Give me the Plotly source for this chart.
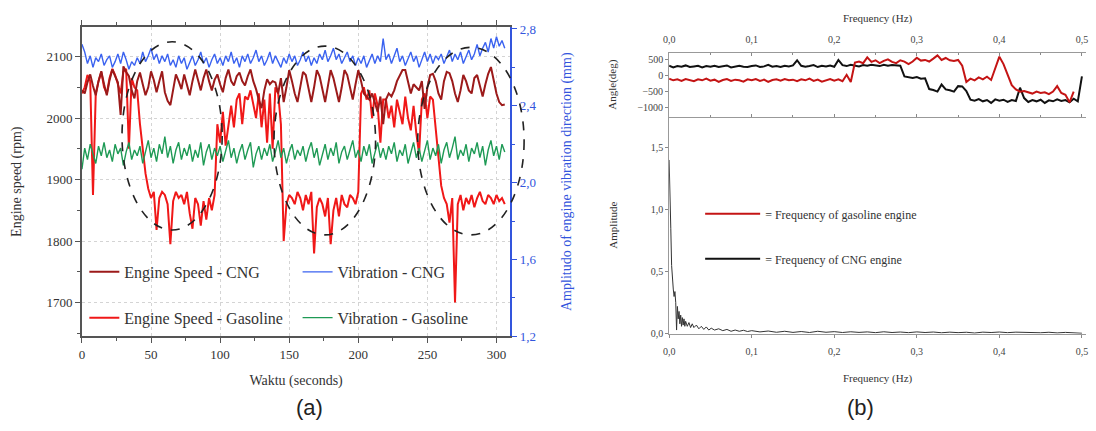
import plotly.graph_objects as go

# ---------------- (a) engine speed and vibration vs time ----------------
speed_cng = [
    2045, 2040, 2058, 2071, 2052, 2037, 2060, 2076, 2055, 2037,
    2062, 2079, 2068, 2058, 2005, 2084, 2075, 2068, 2045, 2032,
    2060, 2074, 2055, 2037, 2050, 2076, 2062, 2042, 2060, 2076,
    2042, 2028, 2021, 2045, 2071, 2060, 2047, 2071, 2055, 2037,
    2060, 2079, 2062, 2045, 2065, 2079, 2060, 2045, 2062, 2071,
    2055, 2042, 2065, 2079, 2060, 2053, 2068, 2074, 2060, 2053,
    2068, 2079, 2060, 2047, 2030, 2016, 2045, 2063, 2055, 2060,
    2058, 2040, 2065, 2026, 2050, 2078, 2060, 2040, 2026, 2050,
    2075, 2070, 2045, 2026, 2050, 2078, 2068, 2045, 2026, 2052,
    2078, 2065, 2045, 2026, 2050, 2078, 2070, 2050, 2030, 2055,
    2078, 2060, 2040, 2035, 2030, 2040, 2025, 2010, 2035, 1990,
    2030, 2040, 2035, 2045, 2060, 2070, 2078, 2078, 2060, 2040,
    2055, 2050, 2045, 2060, 2015, 2050, 2070, 2072, 2060, 2040,
    2030, 2060, 2075, 2073, 2060, 2040, 2026, 2045, 2070, 2060,
    2045, 2040, 2065, 2070, 2050, 2035, 2055, 2072, 2083, 2060,
    2040, 2026, 2021, 2022,
]

speed_gasoline = [
    2040, 2050, 2070, 2060, 1875, 2040, 2060, 2075, 2050, 2040,
    2065, 2080, 2070, 2055, 2040, 2075, 2080, 1950, 2065, 2050,
    2045, 1990, 1950, 1910, 1885, 1870, 1880, 1818, 1870, 1880,
    1875, 1860, 1795, 1865, 1880, 1870, 1875, 1860, 1880, 1845,
    1820, 1870, 1860, 1825, 1865, 1835, 1870, 1850, 1875, 1990,
    1960, 2010, 1955, 1990, 2020, 1985, 2030, 2040, 1990, 2035,
    2030, 2045, 2020, 2000, 2040, 1985, 2030, 1960, 2040, 1950,
    2050, 2040, 1990, 1800, 1860, 1875, 1870, 1860, 1880, 1870,
    1850, 1875, 1860, 1880, 1780, 1855, 1870, 1860, 1840, 1870,
    1795, 1850, 1870, 1840, 1875, 1860, 1855, 1875, 1870, 1860,
    1880, 2040, 2050, 2030, 2045, 2000, 2040, 2020, 1960, 2030,
    2030, 2000, 2020, 1985, 2030, 2010, 1990, 2035, 2000, 1980,
    2020, 1975, 1942, 2030, 2040, 2000, 2035, 2030, 1980, 1940,
    1890, 1870, 1860, 1830, 1870, 1700, 1860, 1875, 1850, 1870,
    1860, 1875, 1855, 1870, 1880, 1865, 1860, 1875, 1870, 1860,
    1875, 1865, 1870, 1860,
]

vibration_cng = [
    2.72, 2.68, 2.62, 2.66, 2.60, 2.65, 2.63, 2.67, 2.61, 2.64,
    2.66, 2.60, 2.63, 2.67, 2.62, 2.68, 2.64, 2.59, 2.63, 2.61,
    2.65, 2.62, 2.68, 2.63, 2.66, 2.70, 2.64, 2.67, 2.62, 2.66,
    2.63, 2.67, 2.61, 2.64, 2.60, 2.66, 2.62, 2.65, 2.59, 2.63,
    2.66, 2.61, 2.64, 2.68, 2.62, 2.65, 2.60, 2.64, 2.67, 2.62,
    2.65, 2.61, 2.66, 2.63, 2.68, 2.62, 2.65, 2.60, 2.66, 2.63,
    2.67, 2.62, 2.65, 2.69, 2.63, 2.66, 2.61, 2.64, 2.68, 2.62,
    2.66, 2.63, 2.60, 2.65, 2.62, 2.67, 2.63, 2.66, 2.61, 2.64,
    2.68, 2.63, 2.66, 2.61, 2.65, 2.62, 2.67, 2.64, 2.69, 2.63,
    2.66, 2.70, 2.64, 2.67, 2.62, 2.65, 2.68, 2.63, 2.66, 2.61,
    2.65, 2.62, 2.66, 2.60, 2.64, 2.67, 2.62, 2.66, 2.63, 2.75,
    2.64, 2.67, 2.62, 2.66, 2.70, 2.63, 2.66, 2.61, 2.65, 2.68,
    2.63, 2.66, 2.60, 2.64, 2.68, 2.63, 2.67, 2.62, 2.66, 2.64,
    2.67, 2.62, 2.66, 2.69, 2.63, 2.67, 2.64, 2.68, 2.62, 2.66,
    2.69, 2.64, 2.67, 2.72, 2.66, 2.70, 2.73, 2.68, 2.75, 2.70,
    2.76, 2.71, 2.74, 2.70,
]

vibration_gasoline = [
    2.07, 2.18, 2.12, 2.20, 2.15, 2.10, 2.19, 2.14, 2.21, 2.13,
    2.17, 2.11, 2.20, 2.15, 2.18, 2.09, 2.16, 2.21, 2.12, 2.17,
    2.14, 2.19, 2.10, 2.16, 2.22, 2.13, 2.18, 2.11, 2.20, 2.15,
    2.24, 2.13, 2.19, 2.10, 2.17, 2.21, 2.12, 2.18, 2.14, 2.20,
    2.11, 2.17, 2.13, 2.21, 2.09, 2.16, 2.20, 2.12, 2.18, 2.14,
    2.19, 2.11, 2.17, 2.22, 2.13, 2.18, 2.10, 2.16, 2.20, 2.12,
    2.17, 2.21, 2.08, 2.15, 2.19, 2.12, 2.18, 2.14, 2.20, 2.11,
    2.16, 2.22, 2.13, 2.18, 2.10, 2.16, 2.20, 2.12, 2.17, 2.14,
    2.19, 2.11, 2.17, 2.21, 2.13, 2.18, 2.09, 2.15, 2.20, 2.12,
    2.18, 2.14, 2.21, 2.10, 2.16, 2.19, 2.12, 2.17, 2.22, 2.13,
    2.17, 2.11, 2.19, 2.14, 2.20, 2.10, 2.16, 2.21, 2.13, 2.18,
    2.12, 2.19, 2.15, 2.21, 2.11, 2.17, 2.14, 2.20, 2.10, 2.16,
    2.21, 2.13, 2.18, 2.11, 2.16, 2.22, 2.12, 2.18, 2.14, 2.20,
    2.10, 2.17, 2.21, 2.13, 2.18, 2.24, 2.12, 2.17, 2.14, 2.20,
    2.11, 2.18, 2.15, 2.21, 2.13, 2.19, 2.09, 2.17, 2.22, 2.14,
    2.19, 2.12, 2.20, 2.16,
]

# sampling every 2 seconds
time_s = [2 * i for i in range(len(speed_cng))]

# dashed ellipses marking the low-speed gasoline phases: (t0, t1, rpm0, rpm1)
ellipses = [
    (29, 101.5, 1818, 2124),
    (139, 212.5, 1810, 2117),
    (243, 320, 1810, 2115),
]

# ---------------- (b) phase angle and amplitude spectrum ----------------
angle_cng = [
    300, 250, 290, 270, 310, 260, 280, 300, 250, 290,
    270, 300, 260, 290, 310, 250, 280, 300, 270, 260,
    290, 310, 260, 280, 330, 270, 290, 260, 300, 280,
    310, 470, 300, 270, 290, 320, 260, 300, 280, 310,
    270, 480, 320, 290, 330, 300, 280, 320, 300, 330,
    310, 290, 330, 300, 320, 310, 300, -30, -60, -80,
    -50, -100, -90, -420, -450, -500, -280, -430, -460, -500,
    -330, -340, -480, -750, -780, -730, -800, -760, -850, -740,
    -780, -750, -820, -760, -790, -380, -700, -820, -760, -800,
    -750, -850, -770, -800, -740, -790, -760, -830, -720, -800,
    -30,
]

angle_gasoline = [
    -100, -150, -120, -170, -110, -140, -180, -120, -150, -100,
    -160, -130, -200, -140, -110, -170, -130, -150, -190, -120,
    -150, -110, -170, -130, -200, -140, -120, -160, -110, -150,
    -130, -180, -120, -150, -100, -170, -130, -190, -140, -110,
    -160, -120, -180, 20, -200, 400, 430, 380, 560, 420,
    470, 380, 450, 500, 420, 380, 470, 430, 350, 430,
    550, 460, 480, 430, 520, 620, 480, 540, 470, 450,
    480, 300, -200, -100, -150, -60, -120, -40, -140, 200,
    580, 350, 50, -300, -430, -500, -480, -520, -560, -500,
    -540, -520, -580, -500, -330, -540, -600, -830, -500,
]

freq_cng = [0.005 * i for i in range(len(angle_cng))]
freq_gasoline = [0.005 * i for i in range(len(angle_gasoline))]

amp_freq = [
    0.000, 0.001, 0.002, 0.003, 0.004, 0.005, 0.006, 0.007, 0.008, 0.009,
    0.010, 0.011, 0.012, 0.013, 0.014, 0.015, 0.016, 0.017, 0.018, 0.019,
    0.020, 0.022, 0.024, 0.026, 0.028, 0.030, 0.033, 0.036, 0.039, 0.042,
    0.045, 0.048, 0.051, 0.055, 0.060, 0.065, 0.070, 0.075, 0.080, 0.085,
    0.090, 0.095, 0.100, 0.110, 0.120, 0.130, 0.140, 0.150, 0.160, 0.170,
    0.180, 0.190, 0.200, 0.210, 0.220, 0.230, 0.240, 0.250, 0.260, 0.270,
    0.280, 0.290, 0.300, 0.310, 0.320, 0.330, 0.340, 0.350, 0.360, 0.370,
    0.380, 0.390, 0.400, 0.410, 0.420, 0.430, 0.440, 0.450, 0.460, 0.470,
    0.480, 0.490, 0.500,
]
amp_cng = [
    1.40, 1.20, 0.85, 0.55, 0.42, 0.36, 0.30, 0.34, 0.25, 0.03,
    0.22, 0.12, 0.18, 0.08, 0.15, 0.06, 0.13, 0.07, 0.12, 0.06,
    0.10, 0.06, 0.09, 0.05, 0.08, 0.05, 0.07, 0.04, 0.06, 0.035,
    0.055, 0.03, 0.045, 0.03, 0.04, 0.025, 0.035, 0.02, 0.03, 0.02,
    0.028, 0.018, 0.025, 0.015, 0.022, 0.012, 0.020, 0.011, 0.018, 0.010,
    0.020, 0.012, 0.017, 0.010, 0.016, 0.011, 0.015, 0.009, 0.016, 0.010,
    0.014, 0.009, 0.015, 0.010, 0.014, 0.008, 0.013, 0.009, 0.012, 0.006,
    0.013, 0.010, 0.014, 0.009, 0.013, 0.010, 0.012, 0.008, 0.012, 0.007,
    0.011, 0.006, 0.004,
]

SERIF = "Liberation Serif"
AXIS_GREY = "#555555"
BLUE = "#3355dd"

TIME_RANGE = [0, 310]
RPM_RANGE = [1645, 2148]

fig = go.Figure()

fig.add_trace(go.Scatter(x=time_s, y=speed_gasoline, mode="lines", name="Engine Speed - Gasoline",
                         line=dict(color="#f01818", width=2), legend="legend", legendgroup="g2", legendrank=2))
fig.add_trace(go.Scatter(x=time_s, y=speed_cng, mode="lines", name="Engine Speed - CNG",
                         line=dict(color="#9c1a1a", width=2), legend="legend", legendgroup="g1", legendrank=1))
fig.add_trace(go.Scatter(x=time_s, y=vibration_gasoline, mode="lines", name="Vibration - Gasoline", yaxis="y2",
                         line=dict(color="#1e9a55", width=1.4), legend="legend2", legendgroup="g4", legendrank=2))
fig.add_trace(go.Scatter(x=time_s, y=vibration_cng, mode="lines", name="Vibration - CNG", yaxis="y2",
                         line=dict(color="#3a62f0", width=1.4), legend="legend2", legendgroup="g3", legendrank=1))

fig.add_trace(go.Scatter(x=freq_cng, y=angle_cng, mode="lines", name="= Frequency of CNG engine",
                         xaxis="x3", yaxis="y3", line=dict(color="#111111", width=2),
                         legend="legend3", legendgroup="g6", legendrank=2))
fig.add_trace(go.Scatter(x=freq_gasoline, y=angle_gasoline, mode="lines", name="= Frequency of gasoline engine",
                         xaxis="x3", yaxis="y3", line=dict(color="#c41414", width=2),
                         legend="legend3", legendgroup="g5", legendrank=1))
fig.add_trace(go.Scatter(x=amp_freq, y=amp_cng, mode="lines", showlegend=False,
                         xaxis="x4", yaxis="y4", line=dict(color="#333333", width=1)))


def to_xdomain(t):
    return (t - TIME_RANGE[0]) / (TIME_RANGE[1] - TIME_RANGE[0])


def to_ydomain(r):
    return (r - RPM_RANGE[0]) / (RPM_RANGE[1] - RPM_RANGE[0])


# domain references keep the outlines unclipped where they cross the frame
for (t0, t1, r0, r1) in ellipses:
    fig.add_shape(type="circle", xref="x domain", yref="y domain",
                  x0=to_xdomain(t0), x1=to_xdomain(t1), y0=to_ydomain(r0), y1=to_ydomain(r1),
                  line=dict(color="#222222", width=1.6, dash="dash"), layer="above")

tick_font_a = dict(family=SERIF, size=13, color="#333333")
tick_font_b = dict(family=SERIF, size=10, color="#444444")

fig.update_layout(
    width=1096, height=431,
    margin=dict(l=0, r=0, t=0, b=0),
    paper_bgcolor="white", plot_bgcolor="white",
    separators=", ",
    showlegend=True,
    font=dict(family=SERIF, color="#333333"),
    xaxis=dict(
        domain=[0.0698, 0.4635], range=TIME_RANGE, anchor="y",
        tickvals=[0, 50, 100, 150, 200, 250, 300], tickfont=tick_font_a,
        ticks="outside", ticklen=5, tickcolor=AXIS_GREY,
        minor=dict(tickvals=[25, 75, 125, 175, 225, 275], ticks="outside", ticklen=3, tickcolor=AXIS_GREY),
        showline=True, linecolor=AXIS_GREY, linewidth=1.5, mirror="ticks",
        showgrid=True, gridcolor="#d4d4d4", griddash="dot", zeroline=False,
        title=dict(text="Waktu (seconds)", font=dict(family=SERIF, size=14, color="#333333"), standoff=14),
    ),
    yaxis=dict(
        domain=[0.2072, 0.9473], range=RPM_RANGE, anchor="x",
        tickvals=[1700, 1800, 1900, 2000, 2100], tickfont=tick_font_a,
        ticks="outside", ticklen=5, tickcolor=AXIS_GREY,
        minor=dict(tickvals=[1650, 1750, 1850, 1950, 2050], ticks="outside", ticklen=3, tickcolor=AXIS_GREY),
        showline=True, linecolor=AXIS_GREY, linewidth=1.5,
        showgrid=True, gridcolor="#d4d4d4", griddash="dot", zeroline=False,
        title=dict(text="Engine speed (rpm)", font=dict(family=SERIF, size=14, color="#333333"), standoff=22),
    ),
    yaxis2=dict(
        overlaying="y", side="right", anchor="x", range=[1.2, 2.81],
        tickvals=[1.2, 1.6, 2.0, 2.4, 2.8], tickformat=".1f",
        tickfont=dict(family=SERIF, size=13, color=BLUE),
        ticks="outside", ticklen=5, tickcolor=BLUE,
        minor=dict(tickvals=[1.4, 1.8, 2.2, 2.6], ticks="outside", ticklen=3, tickcolor=BLUE),
        showline=True, linecolor=BLUE, linewidth=1.5, showgrid=False, zeroline=False,
        title=dict(text="Amplitudo of engine vibration direction (mm)",
                   font=dict(family=SERIF, size=14, color=BLUE), standoff=26),
    ),
    xaxis3=dict(
        domain=[0.6095, 0.9927], range=[0, 0.505], anchor="y3", side="top",
        tickvals=[0, 0.1, 0.2, 0.3, 0.4, 0.5], tickformat=".1f", tickfont=tick_font_b,
        ticks="inside", ticklen=3, tickcolor="#888888", ticklabelstandoff=5,
        minor=dict(tickvals=[0.05, 0.15, 0.25, 0.35, 0.45], ticks="inside", ticklen=2, tickcolor="#888888"),
        showline=True, linecolor="#999999", linewidth=1, mirror="ticks",
        showgrid=False, zeroline=False,
        title=dict(text="Frequency (Hz)", font=dict(family=SERIF, size=11, color="#333333"), standoff=8),
    ),
    yaxis3=dict(
        domain=[0.7332, 0.8856], range=[-1270, 700], anchor="x3",
        tickvals=[-1000, -500, 0, 500], tickfont=tick_font_b,
        ticks="outside", ticklen=3, tickcolor="#888888",
        showline=True, linecolor="#999999", linewidth=1, showgrid=False, zeroline=False,
        title=dict(text="Angle(deg)", font=dict(family=SERIF, size=11, color="#333333"), standoff=18),
    ),
    xaxis4=dict(
        domain=[0.6095, 0.9927], range=[0, 0.505], anchor="y4",
        tickvals=[0, 0.1, 0.2, 0.3, 0.4, 0.5], tickformat=".1f", tickfont=tick_font_b,
        ticks="outside", ticklen=3, tickcolor="#888888", ticklabelstandoff=5,
        showline=True, linecolor="#999999", linewidth=1, showgrid=False, zeroline=False,
        title=dict(text="Frequency (Hz)", font=dict(family=SERIF, size=11, color="#333333"), standoff=18),
    ),
    yaxis4=dict(
        domain=[0.2135, 0.7332], range=[0, 1.75], anchor="x4",
        tickvals=[0, 0.5, 1.0, 1.5], tickformat=".1f", tickfont=tick_font_b,
        ticks="outside", ticklen=3, tickcolor="#888888",
        showline=True, linecolor="#999999", linewidth=1, showgrid=False, zeroline=False,
        title=dict(text="Amplitude", font=dict(family=SERIF, size=11, color="#333333"), standoff=30),
    ),
    legend=dict(
        x=0.072, y=0.402, xanchor="left", yanchor="top", bgcolor="rgba(0,0,0,0)",
        font=dict(family=SERIF, size=16, color="#333333"), tracegroupgap=22, itemwidth=30,
    ),
    legend2=dict(
        x=0.268, y=0.402, xanchor="left", yanchor="top", bgcolor="rgba(0,0,0,0)",
        font=dict(family=SERIF, size=16, color="#333333"), tracegroupgap=22, itemwidth=30,
    ),
    legend3=dict(
        x=0.638, y=0.535, xanchor="left", yanchor="top", bgcolor="rgba(0,0,0,0)",
        font=dict(family=SERIF, size=12, color="#333333"), tracegroupgap=26, itemwidth=55,
    ),
    annotations=[
        dict(text="(a)", xref="paper", yref="paper", x=0.2646, y=0.036, yanchor="middle", showarrow=False,
             font=dict(family="Liberation Sans", size=22, color="#222222")),
        dict(text="(b)", xref="paper", yref="paper", x=0.80, y=0.036, yanchor="middle", showarrow=False,
             font=dict(family="Liberation Sans", size=22, color="#222222")),
    ],
)

fig.write_html("out.html")
